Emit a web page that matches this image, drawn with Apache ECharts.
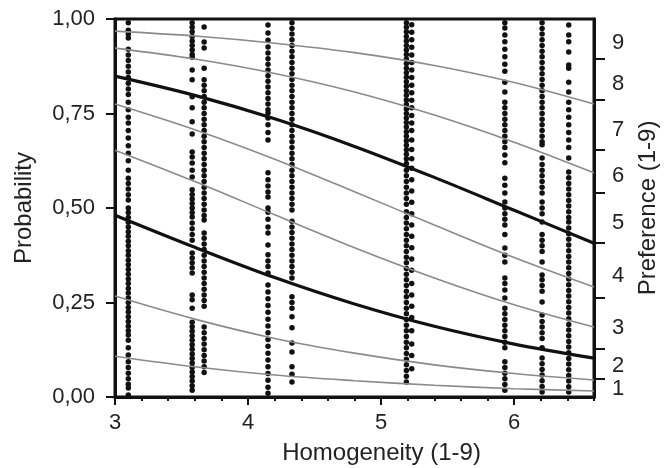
<!DOCTYPE html>
<html>
<head>
<meta charset="utf-8">
<script src="https://cdn.jsdelivr.net/npm/echarts@6/dist/echarts.min.js"></script>
<style>
  html, body { margin: 0; padding: 0; background: #fff; }
  #chart { width: 672px; height: 468px; }
</style>
</head>
<body>
<div id="chart"></div>
<script>
// x positions of the observation columns
var colX = [3.10, 3.58, 3.67, 4.15, 4.33, 5.19, 5.23, 5.93, 6.21, 6.41]

var colA = [0.99, 0.97, 0.96, 0.95, 0.92, 0.905, 0.89, 0.875, 0.86, 0.845, 0.83, 0.815, 0.80, 0.78, 0.76, 0.74, 0.725, 0.705, 0.685, 0.665, 0.645, 0.625, 0.60, 0.579, 0.565, 0.55, 0.535, 0.521, 0.50, 0.488, 0.475, 0.462, 0.45, 0.437, 0.425, 0.412, 0.40, 0.387, 0.375, 0.362, 0.35, 0.337, 0.325, 0.312, 0.30, 0.287, 0.275, 0.262, 0.25, 0.237, 0.225, 0.212, 0.20, 0.187, 0.175, 0.164, 0.15, 0.13, 0.111, 0.093, 0.078, 0.063, 0.048, 0.034, 0.024, 0.005]
var colB = [0.99, 0.978, 0.966, 0.954, 0.942, 0.93, 0.918, 0.906, 0.899, 0.865, 0.839, 0.794, 0.765, 0.728, 0.696, 0.648, 0.635, 0.619, 0.60, 0.582, 0.548, 0.536, 0.524, 0.512, 0.50, 0.488, 0.476, 0.46, 0.445, 0.43, 0.415, 0.381, 0.368, 0.355, 0.342, 0.328, 0.27, 0.257, 0.235, 0.198, 0.186, 0.174, 0.162, 0.15, 0.138, 0.126, 0.114, 0.102, 0.09, 0.078, 0.066, 0.054, 0.042, 0.03, 0.018]
var colC = [0.979, 0.939, 0.923, 0.870, 0.839, 0.825, 0.81, 0.795, 0.78, 0.765, 0.75, 0.735, 0.72, 0.705, 0.69, 0.675, 0.66, 0.645, 0.63, 0.615, 0.60, 0.585, 0.57, 0.555, 0.54, 0.525, 0.51, 0.495, 0.48, 0.468, 0.434, 0.42, 0.405, 0.39, 0.375, 0.36, 0.345, 0.33, 0.315, 0.30, 0.285, 0.27, 0.255, 0.24, 0.185, 0.17, 0.155, 0.14, 0.125, 0.11, 0.095, 0.08, 0.065]
var colD = [0.984, 0.963, 0.944, 0.926, 0.91, 0.895, 0.88, 0.865, 0.85, 0.835, 0.82, 0.805, 0.79, 0.775, 0.76, 0.751, 0.738, 0.72, 0.70, 0.68, 0.593, 0.575, 0.558, 0.542, 0.529, 0.50, 0.489, 0.47, 0.45, 0.434, 0.402, 0.376, 0.36, 0.345, 0.328, 0.296, 0.278, 0.26, 0.242, 0.224, 0.206, 0.188, 0.17, 0.152, 0.134, 0.116, 0.098, 0.08, 0.062, 0.044, 0.026, 0.01]
var colE = [0.99, 0.975, 0.96, 0.945, 0.93, 0.915, 0.90, 0.885, 0.87, 0.855, 0.84, 0.825, 0.81, 0.795, 0.78, 0.765, 0.75, 0.735, 0.72, 0.705, 0.69, 0.675, 0.66, 0.645, 0.63, 0.615, 0.60, 0.585, 0.57, 0.555, 0.54, 0.525, 0.51, 0.495, 0.465, 0.45, 0.435, 0.42, 0.405, 0.39, 0.375, 0.36, 0.345, 0.33, 0.315, 0.265, 0.25, 0.235, 0.212, 0.183, 0.143, 0.119, 0.08, 0.06, 0.04]
var colF = [0.99, 0.978, 0.966, 0.954, 0.942, 0.93, 0.918, 0.906, 0.894, 0.882, 0.87, 0.858, 0.846, 0.834, 0.822, 0.81, 0.798, 0.786, 0.774, 0.762, 0.75, 0.738, 0.726, 0.714, 0.702, 0.69, 0.678, 0.666, 0.654, 0.642, 0.63, 0.618, 0.60, 0.585, 0.57, 0.555, 0.54, 0.525, 0.51, 0.49, 0.475, 0.46, 0.445, 0.43, 0.415, 0.40, 0.385, 0.37, 0.355, 0.34, 0.325, 0.31, 0.295, 0.28, 0.265, 0.25, 0.235, 0.22, 0.205, 0.19, 0.175, 0.16, 0.145, 0.13, 0.115, 0.10, 0.085, 0.07, 0.055, 0.04]
var colF2 = [0.985, 0.965, 0.945, 0.925, 0.905, 0.885, 0.865, 0.845, 0.825, 0.805, 0.785, 0.765, 0.745, 0.725, 0.705, 0.68, 0.655, 0.63, 0.605, 0.575, 0.545, 0.515, 0.485, 0.455, 0.425, 0.395, 0.365, 0.335, 0.30, 0.27, 0.24, 0.21, 0.175, 0.14, 0.11, 0.075]
var colG = [0.99, 0.976, 0.958, 0.94, 0.92, 0.90, 0.88, 0.862, 0.833, 0.807, 0.78, 0.765, 0.75, 0.735, 0.72, 0.705, 0.69, 0.675, 0.66, 0.64, 0.62, 0.579, 0.56, 0.54, 0.516, 0.50, 0.485, 0.47, 0.455, 0.43, 0.394, 0.375, 0.357, 0.315, 0.30, 0.283, 0.262, 0.235, 0.22, 0.205, 0.19, 0.175, 0.16, 0.145, 0.13, 0.093, 0.078, 0.063, 0.048, 0.033, 0.018]
var colH = [0.99, 0.975, 0.96, 0.945, 0.93, 0.915, 0.90, 0.885, 0.87, 0.855, 0.84, 0.825, 0.81, 0.795, 0.78, 0.765, 0.75, 0.735, 0.72, 0.705, 0.69, 0.675, 0.667, 0.632, 0.615, 0.60, 0.585, 0.57, 0.555, 0.54, 0.516, 0.50, 0.485, 0.463, 0.43, 0.415, 0.40, 0.385, 0.357, 0.323, 0.31, 0.295, 0.28, 0.251, 0.217, 0.20, 0.185, 0.17, 0.155, 0.13, 0.103, 0.088, 0.073, 0.058, 0.043, 0.028, 0.013]
var colI = [0.984, 0.958, 0.94, 0.913, 0.878, 0.87, 0.833, 0.807, 0.78, 0.76, 0.74, 0.72, 0.70, 0.68, 0.66, 0.632, 0.595, 0.58, 0.565, 0.55, 0.535, 0.52, 0.505, 0.49, 0.475, 0.463, 0.447, 0.432, 0.417, 0.402, 0.387, 0.372, 0.357, 0.342, 0.327, 0.312, 0.297, 0.282, 0.267, 0.252, 0.237, 0.222, 0.207, 0.192, 0.177, 0.162, 0.147, 0.132, 0.117, 0.102, 0.087, 0.072, 0.057, 0.042, 0.027, 0.013]
var columns = [colA, colB, colC, colD, colE, colF, colF2, colG, colH, colI]

// fitted curves, read at these x values
var curveX = [3, 3.6, 4.2, 4.8, 5.4, 6.0, 6.6]
var gray1 = [0.968, 0.955, 0.936, 0.911, 0.877, 0.832, 0.775]
var gray2 = [0.923, 0.894, 0.856, 0.807, 0.746, 0.674, 0.593]
var black1 = [0.849, 0.798, 0.736, 0.663, 0.581, 0.494, 0.407]
var gray3 = [0.775, 0.707, 0.629, 0.543, 0.455, 0.369, 0.291]
var gray4 = [0.653, 0.570, 0.482, 0.395, 0.315, 0.244, 0.185]
var black2 = [0.481, 0.396, 0.316, 0.246, 0.187, 0.140, 0.103]
var gray5 = [0.267, 0.206, 0.155, 0.116, 0.085, 0.062, 0.045]
var gray6 = [0.108, 0.080, 0.058, 0.043, 0.031, 0.022, 0.016]

// right axis: category boundaries and label positions
var prefTicks = [0.894, 0.786, 0.653, 0.540, 0.407, 0.262, 0.127, 0.048]
var prefLabelPos = [0.937, 0.828, 0.706, 0.585, 0.460, 0.320, 0.183, 0.082, 0.022]
var prefLabels = ['9', '8', '7', '6', '5', '4', '3', '2', '1']

var FONT = 'Liberation Sans'
var INK = '#111'
var TXT = '#222'

var points = []
columns.forEach(function (arr, i) {
  arr.forEach(function (p) {
    points.push([colX[i], p])
  })
})

function curve(vals, color, width) {
  return {
    type: 'line',
    xAxisIndex: 0,
    yAxisIndex: 0,
    data: vals.map(function (v, i) { return [curveX[i], v] }),
    smooth: 0.35,
    symbol: 'none',
    silent: true,
    z: 3,
    lineStyle: { color: color, width: width }
  }
}

var chart = echarts.init(document.getElementById('chart'), null, { renderer: 'canvas' })
chart.setOption({
  animation: false,
  backgroundColor: '#fff',
  textStyle: { fontFamily: FONT },
  grid: {
    left: 115,
    right: 78,
    top: 19,
    bottom: 71,
    show: true,
    borderColor: INK,
    borderWidth: 3,
    outerBoundsMode: 'none'
  },
  xAxis: [
    {
      type: 'value',
      min: 3,
      max: 6.6,
      interval: 1,
      name: 'Homogeneity (1-9)',
      nameLocation: 'middle',
      nameGap: 44,
      // title sits a little right of the plot centre
      nameTextStyle: { fontSize: 24, color: TXT, fontFamily: FONT, padding: [0, 0, 0, 54] },
      axisLine: { show: true, lineStyle: { color: INK, width: 3 } },
      axisTick: { show: true, length: 8, lineStyle: { color: INK, width: 2 } },
      axisLabel: {
        margin: 15,
        fontSize: 22,
        color: TXT,
        fontFamily: FONT,
        showMaxLabel: false,
        formatter: function (v) { return Number.isInteger(v) ? String(v) : '' }
      },
      splitLine: { show: false }
    },
    {
      type: 'value',
      position: 'bottom',
      min: 3,
      max: 6.6,
      interval: 0.2,
      axisLine: { show: false },
      axisTick: { show: true, length: 4, lineStyle: { color: INK, width: 2 } },
      axisLabel: { show: false },
      splitLine: { show: false }
    }
  ],
  yAxis: [
    {
      type: 'value',
      min: 0,
      max: 1,
      interval: 0.25,
      name: 'Probability',
      nameLocation: 'middle',
      nameRotate: 90,
      nameGap: 79,
      nameTextStyle: { fontSize: 24, color: TXT, fontFamily: FONT },
      axisLine: { show: true, lineStyle: { color: INK, width: 3 } },
      axisTick: { show: true, length: 9, lineStyle: { color: INK, width: 2 } },
      axisLabel: {
        margin: 20,
        fontSize: 22,
        color: TXT,
        fontFamily: FONT,
        formatter: function (v) { return v.toFixed(2).replace('.', ',') }
      },
      splitLine: { show: false }
    },
    {
      type: 'value',
      position: 'right',
      min: 0,
      max: 1,
      name: 'Preference (1-9)',
      nameLocation: 'middle',
      nameRotate: 90,
      nameGap: 42,
      nameTextStyle: { fontSize: 24, color: TXT, fontFamily: FONT },
      axisLine: { show: true, lineStyle: { color: INK, width: 3 } },
      axisTick: {
        show: true,
        length: 11,
        customValues: prefTicks,
        lineStyle: { color: INK, width: 2 }
      },
      axisLabel: {
        margin: 18,
        fontSize: 22,
        color: TXT,
        fontFamily: FONT,
        customValues: prefLabelPos,
        formatter: function (v) {
          var i = prefLabelPos.indexOf(v)
          return i >= 0 ? prefLabels[i] : ''
        }
      },
      splitLine: { show: false }
    }
  ],
  series: [
    {
      type: 'scatter',
      xAxisIndex: 0,
      yAxisIndex: 0,
      data: points,
      symbol: 'circle',
      symbolSize: 5.5,
      silent: true,
      z: 2,
      itemStyle: { color: INK, opacity: 1 }
    },
    curve(gray1, '#8a8a8a', 1.6),
    curve(gray2, '#8a8a8a', 1.6),
    curve(gray3, '#8a8a8a', 1.6),
    curve(gray4, '#8a8a8a', 1.6),
    curve(gray5, '#8a8a8a', 1.6),
    curve(gray6, '#8a8a8a', 1.6),
    curve(black1, INK, 3.2),
    curve(black2, INK, 3.2)
  ]
})
</script>
</body>
</html>
